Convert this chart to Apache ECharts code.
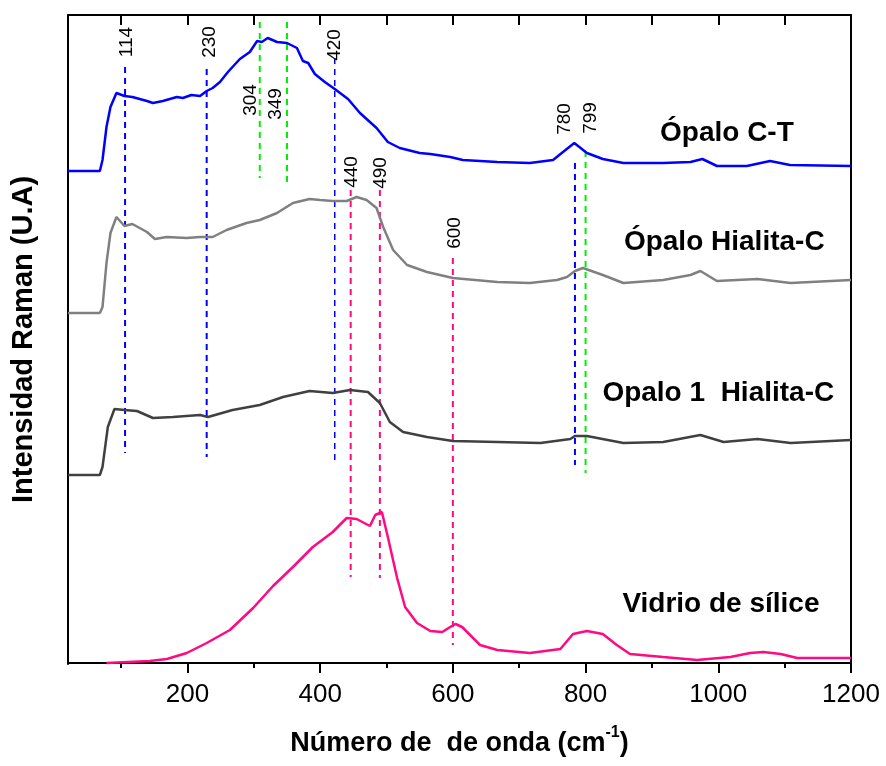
<!DOCTYPE html>
<html>
<head>
<meta charset="utf-8">
<script src="https://cdn.jsdelivr.net/npm/echarts@6/dist/echarts.min.js"></script>
<style>
  html, body { margin: 0; padding: 0; background: #fff; }
  #chart { width: 886px; height: 766px; }
</style>
</head>
<body>
<div id="chart"></div>
<script>
// spectra: [wavenumber, intensity (a.u.)]
const opaloCT = [[20,492],[68,492],[72,503],[78,536],[84,556],[93,570],[105,567],[117,566],[139,562],[148,560],[163,562],[184,566],[193,565],[206,568],[219,567],[229,572],[238,575],[249,581],[261,591],[279,604],[294,611],[305,622],[312,621],[321,625],[335,621],[350,620],[365,615],[374,602],[382,600],[392,589],[407,581],[422,574],[442,564],[460,550],[485,535],[502,521],[520,515],[550,510],[566,509],[596,506],[615,503],[667,501],[716,500],[751,503],[766,511],[783,520],[802,510],[826,504],[857,500],[917,500],[958,501],[976,504],[998,497],[1043,497],[1078,502],[1108,498],[1200,497]]
const opaloHC = [[20,350],[68,350],[72,356],[78,400],[84,430],[93,446],[105,437],[117,439],[139,431],[151,424],[169,426],[199,425],[219,426],[238,426],[259,433],[289,440],[309,443],[335,450],[359,460],[384,464],[400,463],[419,462],[440,462],[455,466],[470,463],[485,455],[495,436],[510,413],[531,398],[561,391],[600,385],[667,381],[716,380],[757,383],[772,386],[784,392],[796,395],[826,388],[857,380],[917,383],[958,388],[973,392],[998,382],[1059,384],[1109,380],[1200,383]]
const opalo1HC = [[20,188],[68,188],[72,196],[80,236],[90,254],[105,253],[124,252],[148,245],[178,246],[219,248],[231,246],[268,253],[309,258],[344,266],[384,272],[419,270],[445,273],[472,271],[490,260],[505,241],[525,231],[561,226],[600,222],[667,221],[732,220],[777,224],[784,227],[802,227],[857,220],[917,221],[973,228],[1008,221],[1059,224],[1109,220],[1200,223]]
const vidrio = [[78,0],[143,2],[169,4],[199,10],[229,20],[264,33],[299,55],[329,77],[359,96],[389,116],[419,131],[440,145],[455,144],[475,137],[483,148],[493,151],[502,126],[516,85],[528,56],[546,40],[566,32],[584,31],[596,36],[604,39],[614,36],[641,18],[667,13],[716,10],[762,14],[781,29],[802,32],[826,29],[847,18],[867,9],[917,6],[968,3],[1018,6],[1048,10],[1068,11],[1094,9],[1119,5],[1200,5]]

// dashed peak markers: position, top, bottom, colour
const peakX      = [106, 229, 422, 784, 309, 350, 800, 446, 490, 600]
const peakTop    = [596, 594, 605, 500, 641, 641, 512, 473, 473, 405]
const peakBottom = [210, 206, 200, 198, 485, 481, 190, 86, 85, 18]
const peakColor  = ['#0000ff','#0000ff','#0000ff','#0000ff','#00ee00','#00ee00','#00ee00','#ff0a80','#ff0a80','#ff0a80']

// rotated peak labels
const peakText = ['114','230','420','780','304','349','799','440','490','600']
const peakTextX = [108, 234, 422, 769, 296, 333, 808, 448, 491, 603]
const peakTextY = [621, 621, 618, 544, 563, 559, 545, 491, 490, 430]

// curve names
const names  = ['Ópalo C-T', 'Ópalo Hialita-C', 'Opalo 1  Hialita-C', 'Vidrio de sílice']
const namesX = [1013, 1009, 1000, 1004]
const namesY = [530, 421, 270, 59]

const labelTicks = [200, 400, 600, 800, 1000, 1200]
const minorTicks = [100, 300, 500, 700, 900, 1100]
const allTicks = [100, 200, 300, 400, 500, 600, 700, 800, 900, 1000, 1100, 1200]

const FONT = 'Liberation Sans, Arial, sans-serif'

const chart = echarts.init(document.getElementById('chart'))

const spectrum = (data, color) => ({
  type: 'line', data: data, showSymbol: false, symbol: 'none', silent: true,
  lineStyle: { color: color, width: 2.5 }, z: 3
})

const series = [
  spectrum(opaloCT, '#0000ff'),
  spectrum(opaloHC, '#808080'),
  spectrum(opalo1HC, '#404040'),
  spectrum(vidrio, '#ff0a80')
]

peakX.forEach((x, i) => {
  series.push({
    type: 'line', symbol: 'none', silent: true, z: 2,
    data: [[x, peakTop[i]], [x, peakBottom[i]]],
    lineStyle: { color: peakColor[i], width: i === 2 ? 1.5 : 2, type: [6, 5] }
  })
})

series.push({
  type: 'scatter', symbolSize: 1, silent: true, z: 5,
  itemStyle: { color: 'transparent', opacity: 1 },
  data: peakText.map((t, i) => [peakTextX[i], peakTextY[i], t]),
  label: {
    show: true, position: 'inside', rotate: 90,
    formatter: p => p.data[2],
    color: '#000', textBorderWidth: 0, fontFamily: FONT, fontSize: 19
  }
})

series.push({
  type: 'scatter', symbolSize: 1, silent: true, z: 5,
  itemStyle: { color: 'transparent', opacity: 1 },
  data: names.map((t, i) => [namesX[i], namesY[i], t]),
  label: {
    show: true, position: 'inside',
    formatter: p => p.data[2],
    color: '#000', textBorderWidth: 0, fontFamily: FONT, fontSize: 28, fontWeight: 'bold'
  }
})

const xBase = {
  type: 'value', min: 20, max: 1200,
  splitLine: { show: false }
}

chart.setOption({
  animation: false,
  backgroundColor: '#fff',
  grid: { left: 68, right: 35, top: 15, bottom: 102, outerBoundsMode: 'none' },
  xAxis: [
    Object.assign({}, xBase, {
      position: 'bottom',
      axisLine: { lineStyle: { color: '#000', width: 2 } },
      axisTick: { show: true, length: 10, lineStyle: { color: '#000', width: 2 }, customValues: labelTicks },
      axisLabel: { customValues: labelTicks, formatter: v => String(v), color: '#000', fontFamily: FONT, fontSize: 26, margin: 18 },
      name: 'Número de  de onda (cm{sup|-1})',
      nameLocation: 'middle',
      nameGap: 61,
      nameTextStyle: {
        color: '#000', fontFamily: FONT, fontSize: 27, fontWeight: 'bold', lineHeight: 38,
        rich: { sup: { fontSize: 16, fontWeight: 'bold', fontFamily: FONT, color: '#000', lineHeight: 12, verticalAlign: 'top' } }
      }
    }),
    Object.assign({}, xBase, {
      position: 'bottom',
      axisLine: { show: false },
      axisTick: { show: true, length: 5, lineStyle: { color: '#000', width: 2 }, customValues: minorTicks },
      axisLabel: { show: false }
    }),
    Object.assign({}, xBase, {
      position: 'top',
      axisLine: { lineStyle: { color: '#000', width: 2 } },
      axisTick: { show: true, inside: true, length: 10, lineStyle: { color: '#000', width: 2 }, customValues: allTicks },
      axisLabel: { show: false }
    })
  ],
  yAxis: [
    {
      type: 'value', min: -1, max: 648, position: 'left',
      axisLine: { show: true, lineStyle: { color: '#000', width: 2 } },
      axisTick: { show: false }, axisLabel: { show: false }, splitLine: { show: false },
      name: 'Intensidad Raman (U.A)',
      nameLocation: 'middle',
      nameGap: 30,
      nameTextStyle: { color: '#000', fontFamily: FONT, fontSize: 29, fontWeight: 'bold' }
    },
    {
      type: 'value', min: -1, max: 648, position: 'right',
      axisLine: { show: true, lineStyle: { color: '#000', width: 2 } },
      axisTick: { show: false }, axisLabel: { show: false }, splitLine: { show: false }
    }
  ],
  series: series
})
</script>
</body>
</html>
